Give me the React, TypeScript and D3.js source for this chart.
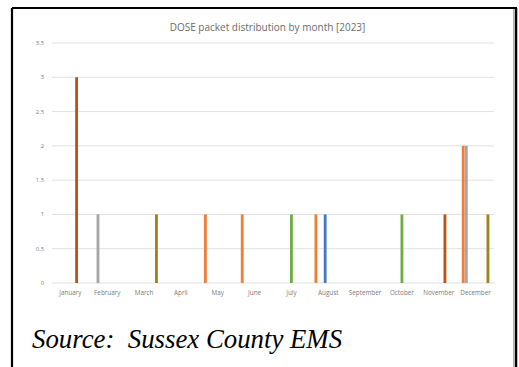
import React from "react";
import * as d3 from "d3";

const title = "DOSE packet distribution by month [2023]";
const caption = "Source:  Sussex County EMS";

const months = [
  "January", "February", "March", "April", "May", "June",
  "July", "August", "September", "October", "November", "December",
];

const yTicks = [0, 0.5, 1, 1.5, 2, 2.5, 3, 3.5];

const seriesNames = ["S1", "S2", "S3", "S4", "S5", "S6", "S7", "S8", "S9", "S10", "S11"];
const seriesColors = [
  "#4472c4", "#ee7f3a", "#a5a5a5", "#ffc000", "#4a78c8", "#70ad47",
  "#264478", "#b9531a", "#636363", "#a3821a", "#255e91",
];

const s1 = [0, 0, 0, 0, 0, 0, 0, 0, 0, 0, 0, 0];
const s2 = [0, 0, 0, 0, 1, 1, 0, 1, 0, 0, 0, 2];
const s3 = [0, 1, 0, 0, 0, 0, 0, 0, 0, 0, 0, 2];
const s4 = [0, 0, 0, 0, 0, 0, 0, 0, 0, 0, 0, 0];
const s5 = [0, 0, 0, 0, 0, 0, 0, 1, 0, 0, 0, 0];
const s6 = [0, 0, 0, 0, 0, 0, 1, 0, 0, 1, 0, 0];
const s7 = [0, 0, 0, 0, 0, 0, 0, 0, 0, 0, 0, 0];
const s8 = [3, 0, 0, 0, 0, 0, 0, 0, 0, 0, 1, 0];
const s9 = [0, 0, 0, 0, 0, 0, 0, 0, 0, 0, 0, 0];
const s10 = [0, 0, 1, 0, 0, 0, 0, 0, 0, 0, 0, 1];
const s11 = [0, 0, 0, 0, 0, 0, 0, 0, 0, 0, 0, 0];

const seriesValues = [s1, s2, s3, s4, s5, s6, s7, s8, s9, s10, s11];

export default function App() {
  const W = 519;
  const H = 367;
  const left = 52;
  const right = 494;
  const top = 43;
  const bottom = 283;

  const x0 = d3.scaleBand<string>().domain(months).range([left, right]).padding(0);
  const x1 = d3
    .scaleBand<string>()
    .domain(seriesNames)
    .range([0, x0.bandwidth()])
    .paddingInner(0.08)
    .paddingOuter(0.5);
  const y = d3.scaleLinear().domain([0, 3.5]).range([bottom, top]);

  const bars: React.ReactNode[] = [];
  seriesValues.forEach((vals, si) => {
    vals.forEach((v, mi) => {
      if (v <= 0) return;
      const bx = (x0(months[mi]) ?? 0) + (x1(seriesNames[si]) ?? 0);
      bars.push(
        <rect
          key={`${si}-${mi}`}
          x={bx}
          y={y(v)}
          width={x1.bandwidth()}
          height={y(0) - y(v)}
          fill={seriesColors[si]}
        />
      );
    });
  });

  return (
    <svg
      width={W}
      height={H}
      style={{ position: "fixed", left: 0, top: 0, background: "#fff" }}
    >
      <rect x={0} y={0} width={W} height={H} fill="#fff" />
      <text
        x={267.5}
        y={31}
        textAnchor="middle"
        fontFamily="'Open Sans', sans-serif"
        fontSize={10}
        fill="#6b6b6b"
      >
        {title}
      </text>
      {yTicks.map((t) => (
        <g key={t}>
          <line x1={left} x2={right} y1={y(t)} y2={y(t)} stroke="#e0e0e0" strokeWidth={1} />
          <text
            x={44}
            y={y(t) + 2}
            textAnchor="end"
            fontFamily="'Open Sans', sans-serif"
            fontSize={5.8}
            fill="#7a7a7a"
          >
            {t}
          </text>
        </g>
      ))}
      {bars}
      {months.map((m) => (
        <text
          key={m}
          x={(x0(m) ?? 0) + x0.bandwidth() / 2}
          y={295}
          textAnchor="middle"
          fontFamily="'Open Sans', sans-serif"
          fontSize={6.3}
          fill="#7a7a7a"
        >
          {m}
        </text>
      ))}
      <text
        x={32}
        y={348}
        fontFamily="'Liberation Serif', 'Times New Roman', serif"
        fontStyle="italic"
        fontSize={26.8}
        fill="#000"
        style={{ whiteSpace: "pre" }}
        xmlSpace="preserve"
      >
        {caption}
      </text>
      <line x1={12} x2={12} y1={8} y2={H + 5} stroke="#000" strokeWidth={2.2} />
      <line x1={12} x2={517} y1={8} y2={8} stroke="#000" strokeWidth={2.2} />
      <line x1={516} x2={516} y1={8} y2={H + 5} stroke="#000" strokeWidth={2.5} />
      <line x1={513.5} x2={513.5} y1={9} y2={H + 5} stroke="#9a9a9a" strokeWidth={0.8} />
    </svg>
  );
}
